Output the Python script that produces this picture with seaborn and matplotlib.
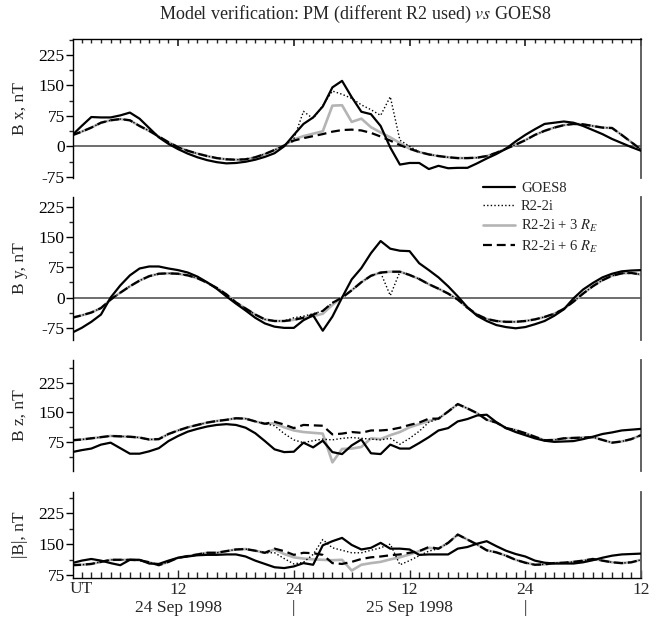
import numpy as np
import pandas as pd
import matplotlib
matplotlib.use("Agg")
import matplotlib.pyplot as plt
from matplotlib.ticker import MultipleLocator
import seaborn as sns

# ---------------- data (hours from 00 UT 24 Sep 1998) ----------------
hours = list(range(1, 61))

goes_bx = [27, 50, 72, 71, 71, 76, 83, 68, 45, 22, 6, -7, -18, -27, -34, -39, -42, -41, -38, -33,
           -26, -17, 0, 28, 55, 71, 98, 145, 161, 121, 85, 79, 50, -3, -45, -41, -41, -56, -48, -54,
           -53, -53, -42, -30, -19, -6, 12, 28, 42, 55, 58, 61, 58, 50, 40, 30, 18, 8, -2, -11]
r6_bx = [27, 36, 46, 58, 64, 67, 64, 50, 38, 24, 10, -2, -11, -18, -24, -29, -32, -33, -32, -27,
         -19, -9, 2, 14, 20, 25, 30, 36, 40, 41, 39, 33, 24, 14, 3, -6, -14, -20, -24, -27,
         -29, -29, -28, -24, -16, -6, 4, 15, 28, 38, 46, 52, 55, 54, 50, 46, 45, 28, 10, -8]
r3_bx = [27, 36, 46, 58, 64, 67, 64, 50, 38, 24, 10, -2, -11, -18, -24, -29, -32, -33, -32, -27,
         -19, -9, 2, 17, 25, 31, 37, 100, 101, 60, 68, 47, 34, 22, 8, -6, -14, -20, -24, -27,
         -29, -29, -28, -24, -16, -6, 4, 15, 28, 38, 46, 52, 55, 54, 50, 46, 45, 28, 10, -8]
r2_bx = [27, 36, 46, 58, 64, 67, 64, 50, 38, 24, 10, -2, -11, -18, -24, -29, -32, -33, -32, -27,
         -19, -9, 2, 18, 86, 68, 100, 136, 128, 118, 102, 90, 76, 122, 15, 0, -14, -20, -24, -27,
         -29, -29, -28, -24, -16, -6, 4, 15, 28, 38, 46, 52, 55, 54, 50, 46, 45, 28, 10, -8]

goes_by = [-87, -75, -60, -42, 0, 30, 55, 72, 77, 77, 72, 68, 62, 52, 38, 22, 3, -15, -32, -50,
           -64, -72, -75, -75, -56, -44, -82, -47, 0, 45, 73, 110, 140, 121, 116, 115, 85, 68, 50, 28,
           3, -24, -45, -58, -68, -73, -76, -73, -66, -58, -45, -29, -2, 20, 36, 50, 59, 65, 67, 68]
r6_by = [-50, -44, -37, -26, -5, 12, 28, 42, 53, 59, 60, 59, 55, 48, 37, 24, 8, -12, -27, -42,
         -54, -58, -58, -55, -50, -42, -33, -13, 0, 18, 38, 54, 62, 64, 64, 56, 46, 33, 22, 10,
         -5, -25, -42, -53, -58, -60, -60, -58, -54, -48, -40, -28, -10, 10, 28, 43, 54, 60, 61, 57]
r3_by = [-50, -44, -37, -26, -5, 12, 28, 42, 53, 59, 60, 59, 55, 48, 37, 24, 8, -12, -27, -42,
         -54, -58, -58, -55, -50, -46, -40, -18, 0, 18, 38, 54, 62, 64, 64, 56, 46, 33, 22, 10,
         -5, -25, -42, -53, -58, -60, -60, -58, -54, -48, -40, -28, -10, 10, 28, 43, 54, 60, 61, 57]
r2_by = [-50, -44, -37, -26, -5, 12, 28, 42, 53, 59, 60, 59, 55, 48, 37, 24, 8, -12, -27, -42,
         -54, -58, -58, -50, -46, -40, -33, -13, 0, 18, 38, 54, 62, 5, 64, 56, 46, 33, 22, 10,
         -5, -25, -42, -53, -58, -60, -60, -58, -54, -48, -40, -28, -10, 10, 28, 43, 54, 60, 61, 57]

goes_bz = [49, 54, 58, 68, 73, 59, 45, 45, 51, 59, 77, 90, 101, 108, 114, 118, 120, 118, 111, 97,
           77, 56, 49, 50, 73, 61, 78, 49, 44, 66, 81, 46, 44, 68, 58, 58, 72, 87, 104, 110,
           127, 133, 142, 144, 125, 110, 100, 92, 84, 78, 75, 76, 77, 82, 88, 95, 99, 104, 106, 108]
r6_bz = [79, 81, 84, 87, 90, 89, 88, 86, 81, 82, 95, 104, 112, 118, 124, 128, 131, 135, 134, 127,
         121, 126, 119, 110, 118, 117, 116, 94, 96, 100, 98, 104, 104, 106, 111, 118, 124, 134, 134, 152,
         171, 160, 148, 131, 124, 110, 105, 97, 88, 79, 80, 84, 85, 86, 87, 80, 73, 76, 82, 92]
r3_bz = [79, 81, 84, 87, 90, 89, 88, 86, 81, 82, 95, 104, 112, 118, 124, 128, 131, 135, 134, 127,
         121, 122, 112, 104, 100, 98, 96, 23, 57, 58, 62, 84, 82, 92, 100, 112, 120, 128, 134, 152,
         171, 160, 148, 131, 124, 110, 105, 97, 88, 79, 80, 84, 85, 86, 87, 80, 73, 76, 82, 92]
r2_bz = [79, 81, 84, 87, 90, 89, 88, 86, 81, 82, 95, 104, 112, 118, 124, 128, 131, 135, 134, 127,
         121, 116, 96, 80, 73, 78, 82, 80, 84, 86, 84, 82, 80, 84, 69, 84, 102, 125, 134, 152,
         171, 160, 148, 131, 124, 110, 105, 97, 88, 79, 80, 84, 85, 86, 87, 80, 73, 76, 82, 92]

goes_b = [104, 110, 114, 110, 104, 99, 112, 112, 103, 102, 110, 117, 120, 123, 124, 124, 125, 125, 120, 110,
          102, 94, 92, 96, 104, 100, 147, 157, 165, 148, 137, 141, 153, 139, 139, 137, 124, 125, 125, 125,
          139, 143, 151, 157, 145, 134, 126, 120, 110, 105, 103, 103, 103, 106, 111, 117, 122, 125, 126, 127]
r6_b = [99, 100, 102, 107, 112, 112, 112, 111, 106, 99, 107, 117, 121, 125, 129, 129, 133, 137, 138, 134,
        129, 139, 133, 124, 129, 128, 124, 104, 102, 107, 114, 118, 120, 123, 125, 129, 133, 143, 139, 153,
        173, 161, 149, 135, 130, 122, 112, 105, 100, 101, 104, 105, 107, 110, 114, 110, 106, 104, 106, 112]
r3_b = [99, 100, 102, 107, 112, 112, 112, 111, 106, 99, 107, 117, 121, 125, 129, 129, 133, 137, 138, 134,
        129, 137, 126, 118, 115, 113, 112, 111, 112, 86, 100, 104, 107, 113, 118, 125, 133, 141, 139, 153,
        173, 161, 149, 135, 130, 122, 112, 105, 100, 101, 104, 105, 107, 110, 114, 110, 106, 104, 106, 112]
r2_b = [99, 100, 102, 107, 112, 112, 112, 111, 106, 99, 107, 117, 121, 125, 129, 129, 133, 137, 138, 134,
        129, 129, 115, 102, 106, 125, 161, 141, 135, 129, 129, 135, 141, 150, 100, 110, 122, 133, 139, 153,
        173, 161, 149, 135, 130, 122, 112, 105, 100, 101, 104, 105, 107, 110, 114, 110, 106, 104, 106, 112]

panel_labels = ["B x, nT", "B y, nT", "B z, nT", "|B|, nT"]
series_labels = ["GOES8", "R2-2i", "R2-2i + 3 $R_E$", "R2-2i + 6 $R_E$"]
xtick_hours = [12, 24, 36, 48, 60]
xtick_labels = ["12", "24", "12", "24", "12"]
date_labels = ["24 Sep 1998", "25 Sep 1998"]
date_hours = [12, 36]
day_marks = [24, 48]

panels = [
    (goes_bx, r2_bx, r3_bx, r6_bx),
    (goes_by, r2_by, r3_by, r6_by),
    (goes_bz, r2_bz, r3_bz, r6_bz),
    (goes_b, r2_b, r3_b, r6_b),
]
ylims = [(-78, 264), (-105, 249), (1, 283), (68, 276)]
yticks = [[-75, 0, 75, 150, 225], [-75, 0, 75, 150, 225], [75, 150, 225], [75, 150, 225]]

# ---------------- style ----------------
sns.set_theme(style="ticks")
plt.rcParams["font.family"] = ["Liberation Serif", "DejaVu Serif"]
plt.rcParams["mathtext.fontset"] = "stix"
plt.rcParams["axes.linewidth"] = 1.0

W, H = 657, 617
fig = plt.figure(figsize=(W / 100, H / 100), dpi=100)

rects_px = [(39, 178), (197, 340), (360, 471), (492, 578)]
left_px, right_px = 73, 641

styles = [
    dict(color="black", lw=1.6, linestyle="-", zorder=5),           # GOES8
    dict(color="black", lw=1.0, linestyle=(0, (1, 1.6)), zorder=3),  # R2-2i
    dict(color="#b4b4b4", lw=1.9, linestyle="-", zorder=2),         # +3RE
    dict(color="black", lw=1.6, linestyle=(0, (4, 2.2)), zorder=4),  # +6RE
]

axes = []
for i, ((top, bot), series) in enumerate(zip(rects_px, panels)):
    ax = fig.add_axes([left_px / W, 1 - bot / H, (right_px - left_px) / W, (bot - top) / H])
    axes.append(ax)
    for k in [2, 1, 3, 0]:
        sns.lineplot(x=hours, y=series[k], ax=ax, label=series_labels[k], legend=False,
                     **styles[k])
    ax.set_xlim(1.1, 60)
    ax.set_ylim(*ylims[i])
    ax.set_yticks(yticks[i])
    ax.set_yticklabels([str(v) for v in yticks[i]])
    ax.yaxis.set_minor_locator(MultipleLocator(37.5))
    ax.tick_params(axis="y", which="major", direction="out", length=5, width=1,
                   labelsize=12.5, pad=1, colors="black")
    ax.tick_params(axis="y", which="minor", direction="out", length=3, width=1)
    ax.set_ylabel(panel_labels[i], fontsize=12.5)
    ax.yaxis.set_label_coords(-0.08, 0.5)
    ax.set_xlabel("")
    ax.spines["left"].set_color("black")
    ax.spines["right"].set_visible(True)
    ax.spines["right"].set_color("#555555")
    ax.spines["right"].set_linewidth(1.3)
    if i in (0, 1):
        ax.axhline(0, color="#555555", lw=1.2, zorder=1)
    if i == 0:
        ax.spines["top"].set_visible(True)
        ax.spines["top"].set_color("black")
        ax.spines["bottom"].set_visible(False)
        ax.xaxis.set_ticks_position("top")
        ax.set_xticks(xtick_hours)
        ax.xaxis.set_minor_locator(MultipleLocator(1))
        ax.tick_params(axis="x", which="major", direction="in", length=5, labeltop=False,
                       labelbottom=False, top=True, bottom=False)
        ax.tick_params(axis="x", which="minor", direction="in", length=3, top=True, bottom=False)
    elif i == 3:
        ax.spines["top"].set_visible(False)
        ax.spines["bottom"].set_visible(True)
        ax.spines["bottom"].set_color("black")
        ax.set_xticks(xtick_hours)
        ax.set_xticklabels(xtick_labels)
        ax.xaxis.set_minor_locator(MultipleLocator(1))
        ax.tick_params(axis="x", which="major", direction="in", length=6, width=1,
                       labelsize=12.5, pad=3, top=False)
        ax.tick_params(axis="x", which="minor", direction="in", length=4, width=1, top=False)
    else:
        ax.spines["top"].set_visible(False)
        ax.spines["bottom"].set_visible(False)
        ax.set_xticks([])
        ax.tick_params(axis="x", which="both", bottom=False, top=False, labelbottom=False)
    ax.patch.set_alpha(0)

ax4 = axes[3]
ax4.text(2.0, -0.04, "UT", transform=ax4.get_xaxis_transform(), ha="center", va="top",
         fontsize=12.5)
for h, lab in zip(date_hours, date_labels):
    ax4.text(h, -0.26, lab, transform=ax4.get_xaxis_transform(), ha="center", va="top",
             fontsize=12.5)
for h in day_marks:
    ax4.text(h, -0.26, "|", transform=ax4.get_xaxis_transform(), ha="center", va="top",
             fontsize=12.5)

handle_map = {ln.get_label(): ln for ln in axes[1].get_lines()}
handles = [handle_map[l] for l in series_labels]
fig.legend(handles, series_labels, loc="upper left", bbox_to_anchor=(483 / W, 1 - 182 / H),
           frameon=False, fontsize=10.5, handlelength=2.2, handletextpad=0.4,
           labelspacing=0.32, borderaxespad=0, borderpad=0)

fig.text(355 / W, 1 - 14 / H, "Model verification: PM (different R2 used) $\\it{vs}$ GOES8",
         ha="center", va="center", fontsize=13)

fig.savefig("out.png", dpi=100)
